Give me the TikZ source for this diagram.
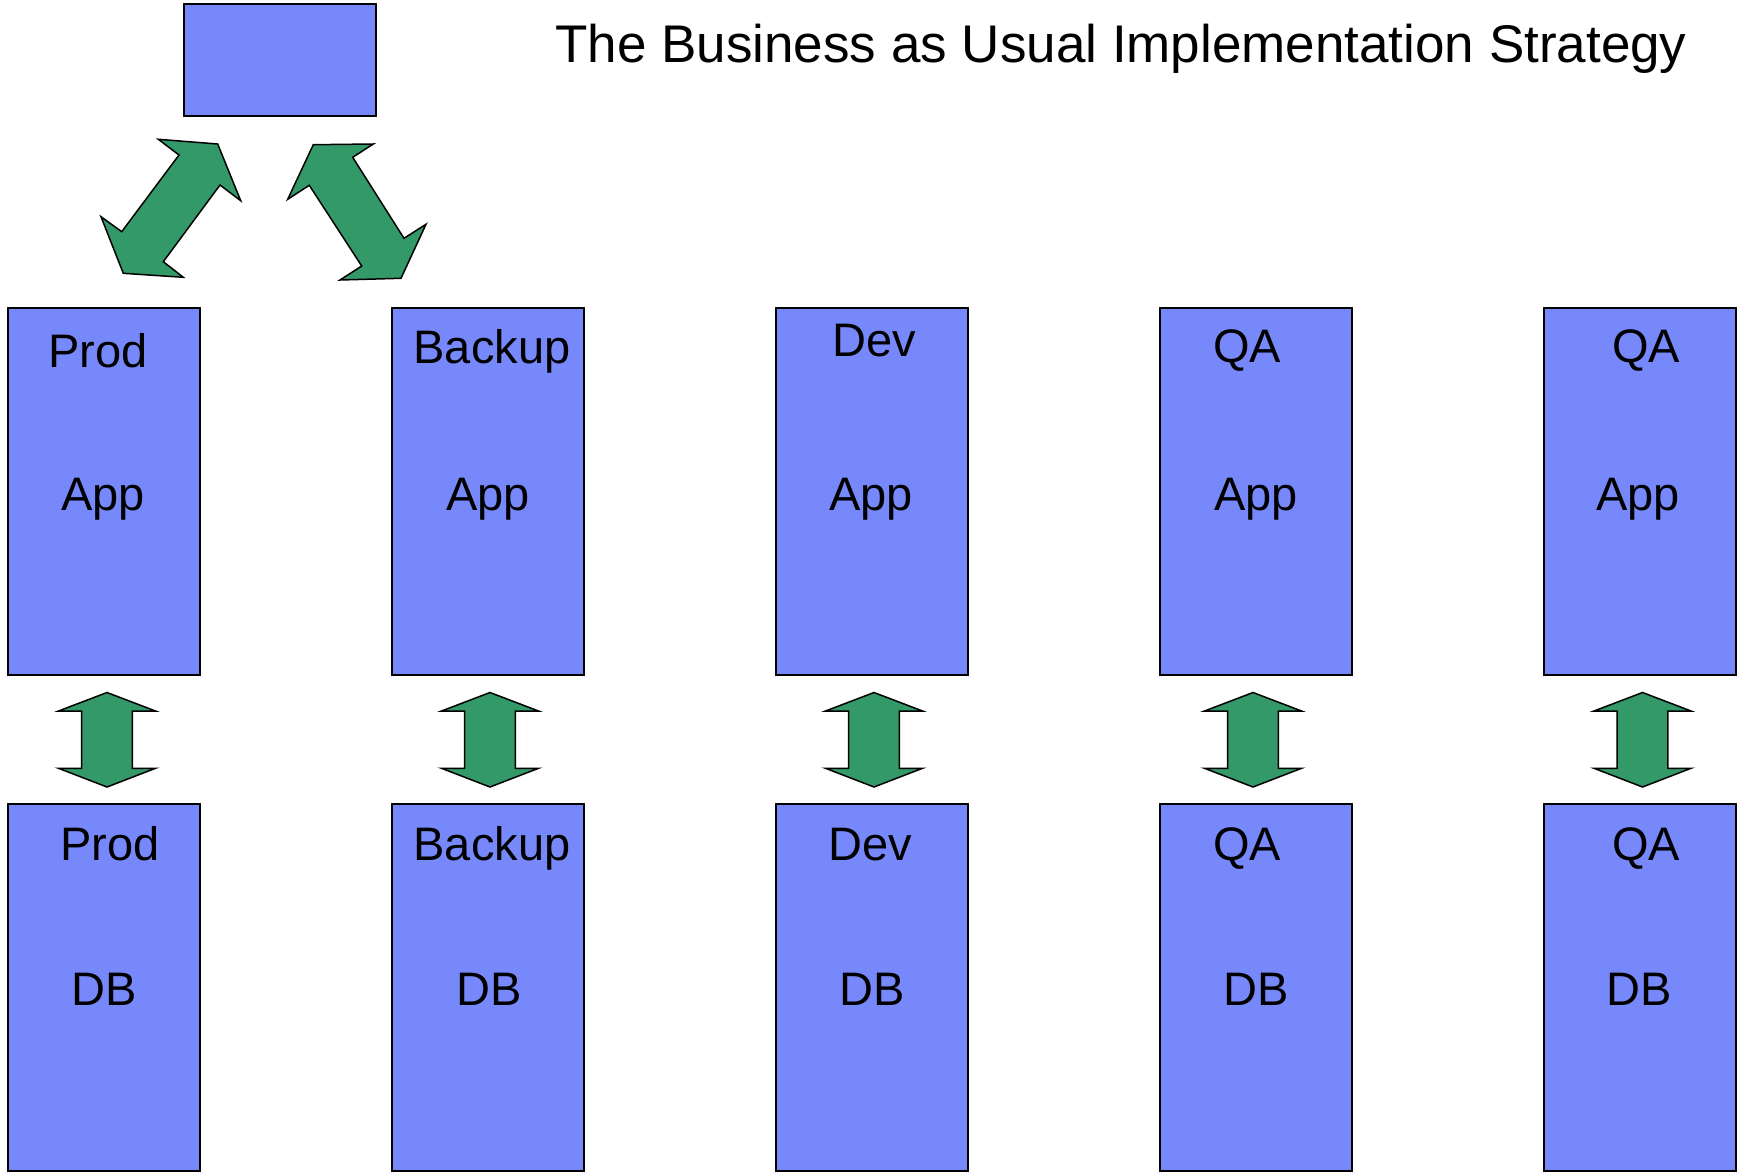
\documentclass[tikz,border=0pt]{standalone}
\usepackage{fontspec}
\setmainfont{Liberation Sans}
\definecolor{boxblue}{RGB}{119,136,250}
\definecolor{arrgreen}{RGB}{52,153,104}
\begin{document}
\begin{tikzpicture}[x=1pt,y=-1pt,
  box/.style={draw=black,line width=1.5pt,fill=boxblue,inner sep=0pt,minimum width=192pt,minimum height=367pt},
  topbox/.style={draw=black,line width=1.5pt,fill=boxblue,inner sep=0pt,minimum width=192pt,minimum height=112pt},
  lbl/.style={anchor=base,inner sep=0pt,font=\fontsize{47}{56}\selectfont},
  ttl/.style={anchor=base,inner sep=0pt,font=\fontsize{53}{62}\selectfont},
  blockarrow/.style={draw=black,line width=1.5pt,fill=arrgreen,line join=miter}]
\useasboundingbox (0,0) rectangle (1739,1172);
\fill[white] (0,0) rectangle (1739,1172);

% title
\node[ttl] (title) at (1121,63) {The Business as Usual Implementation Strategy};

% top box
\node[topbox] (top) at (280,60) {};

% app boxes
\node[box] (app1) at (104,491.5) {};
\node[box] (app2) at (488,491.5) {};
\node[box] (app3) at (872,491.5) {};
\node[box] (app4) at (1256,491.5) {};
\node[box] (app5) at (1640,491.5) {};
% db boxes
\node[box] (db1) at (104,987.5) {};
\node[box] (db2) at (488,987.5) {};
\node[box] (db3) at (872,987.5) {};
\node[box] (db4) at (1256,987.5) {};
\node[box] (db5) at (1640,987.5) {};

% app labels
\node[lbl] (a1t) at (98,367) {Prod};
\node[lbl] (a2t) at (492,363) {Backup};
\node[lbl] (a3t) at (874,356) {Dev};
\node[lbl] (a4t) at (1247,362) {QA};
\node[lbl] (a5t) at (1646,362) {QA};
\node[lbl] (a1b) at (103,510) {App};
\node[lbl] (a2b) at (488,510) {App};
\node[lbl] (a3b) at (871,510) {App};
\node[lbl] (a4b) at (1256,510) {App};
\node[lbl] (a5b) at (1638,510) {App};
% db labels
\node[lbl] (d1t) at (110,860) {Prod};
\node[lbl] (d2t) at (492,860) {Backup};
\node[lbl] (d3t) at (870,860) {Dev};
\node[lbl] (d4t) at (1247,860) {QA};
\node[lbl] (d5t) at (1646,860) {QA};
\node[lbl] (d1b) at (104,1005) {DB};
\node[lbl] (d2b) at (489,1005) {DB};
\node[lbl] (d3b) at (872,1005) {DB};
\node[lbl] (d4b) at (1256,1005) {DB};
\node[lbl] (d5b) at (1639,1005) {DB};

% vertical double block arrows between app and db
\foreach \cx in {107,490,874,1253,1642.5}{
  \begin{scope}[shift={(\cx,0)}]
  \filldraw[blockarrow] (0,692.5) -- (48.5,711) -- (25.3,711) -- (25.3,768.3) -- (48.5,768.3)
    -- (0,787) -- (-48.5,768.3) -- (-25.3,768.3) -- (-25.3,711) -- (-48.5,711) -- cycle;
  \end{scope}
}

% diagonal double block arrows from top box
\filldraw[blockarrow] (158.3,139.3) -- (217.7,144) -- (240.7,200.7) -- (220,185) -- (163.3,261.7)
  -- (183.3,277.3) -- (123.3,273.3) -- (101,216.7) -- (121.7,231.7) -- (179,155) -- cycle;
\filldraw[blockarrow] (313.3,144.7) -- (373.3,144) -- (352.7,157.3) -- (404,238.3) -- (426,224.3)
  -- (401,278.3) -- (340,280) -- (361.7,266) -- (309.3,185.3) -- (287.7,199.3) -- cycle;
\end{tikzpicture}
\end{document}
